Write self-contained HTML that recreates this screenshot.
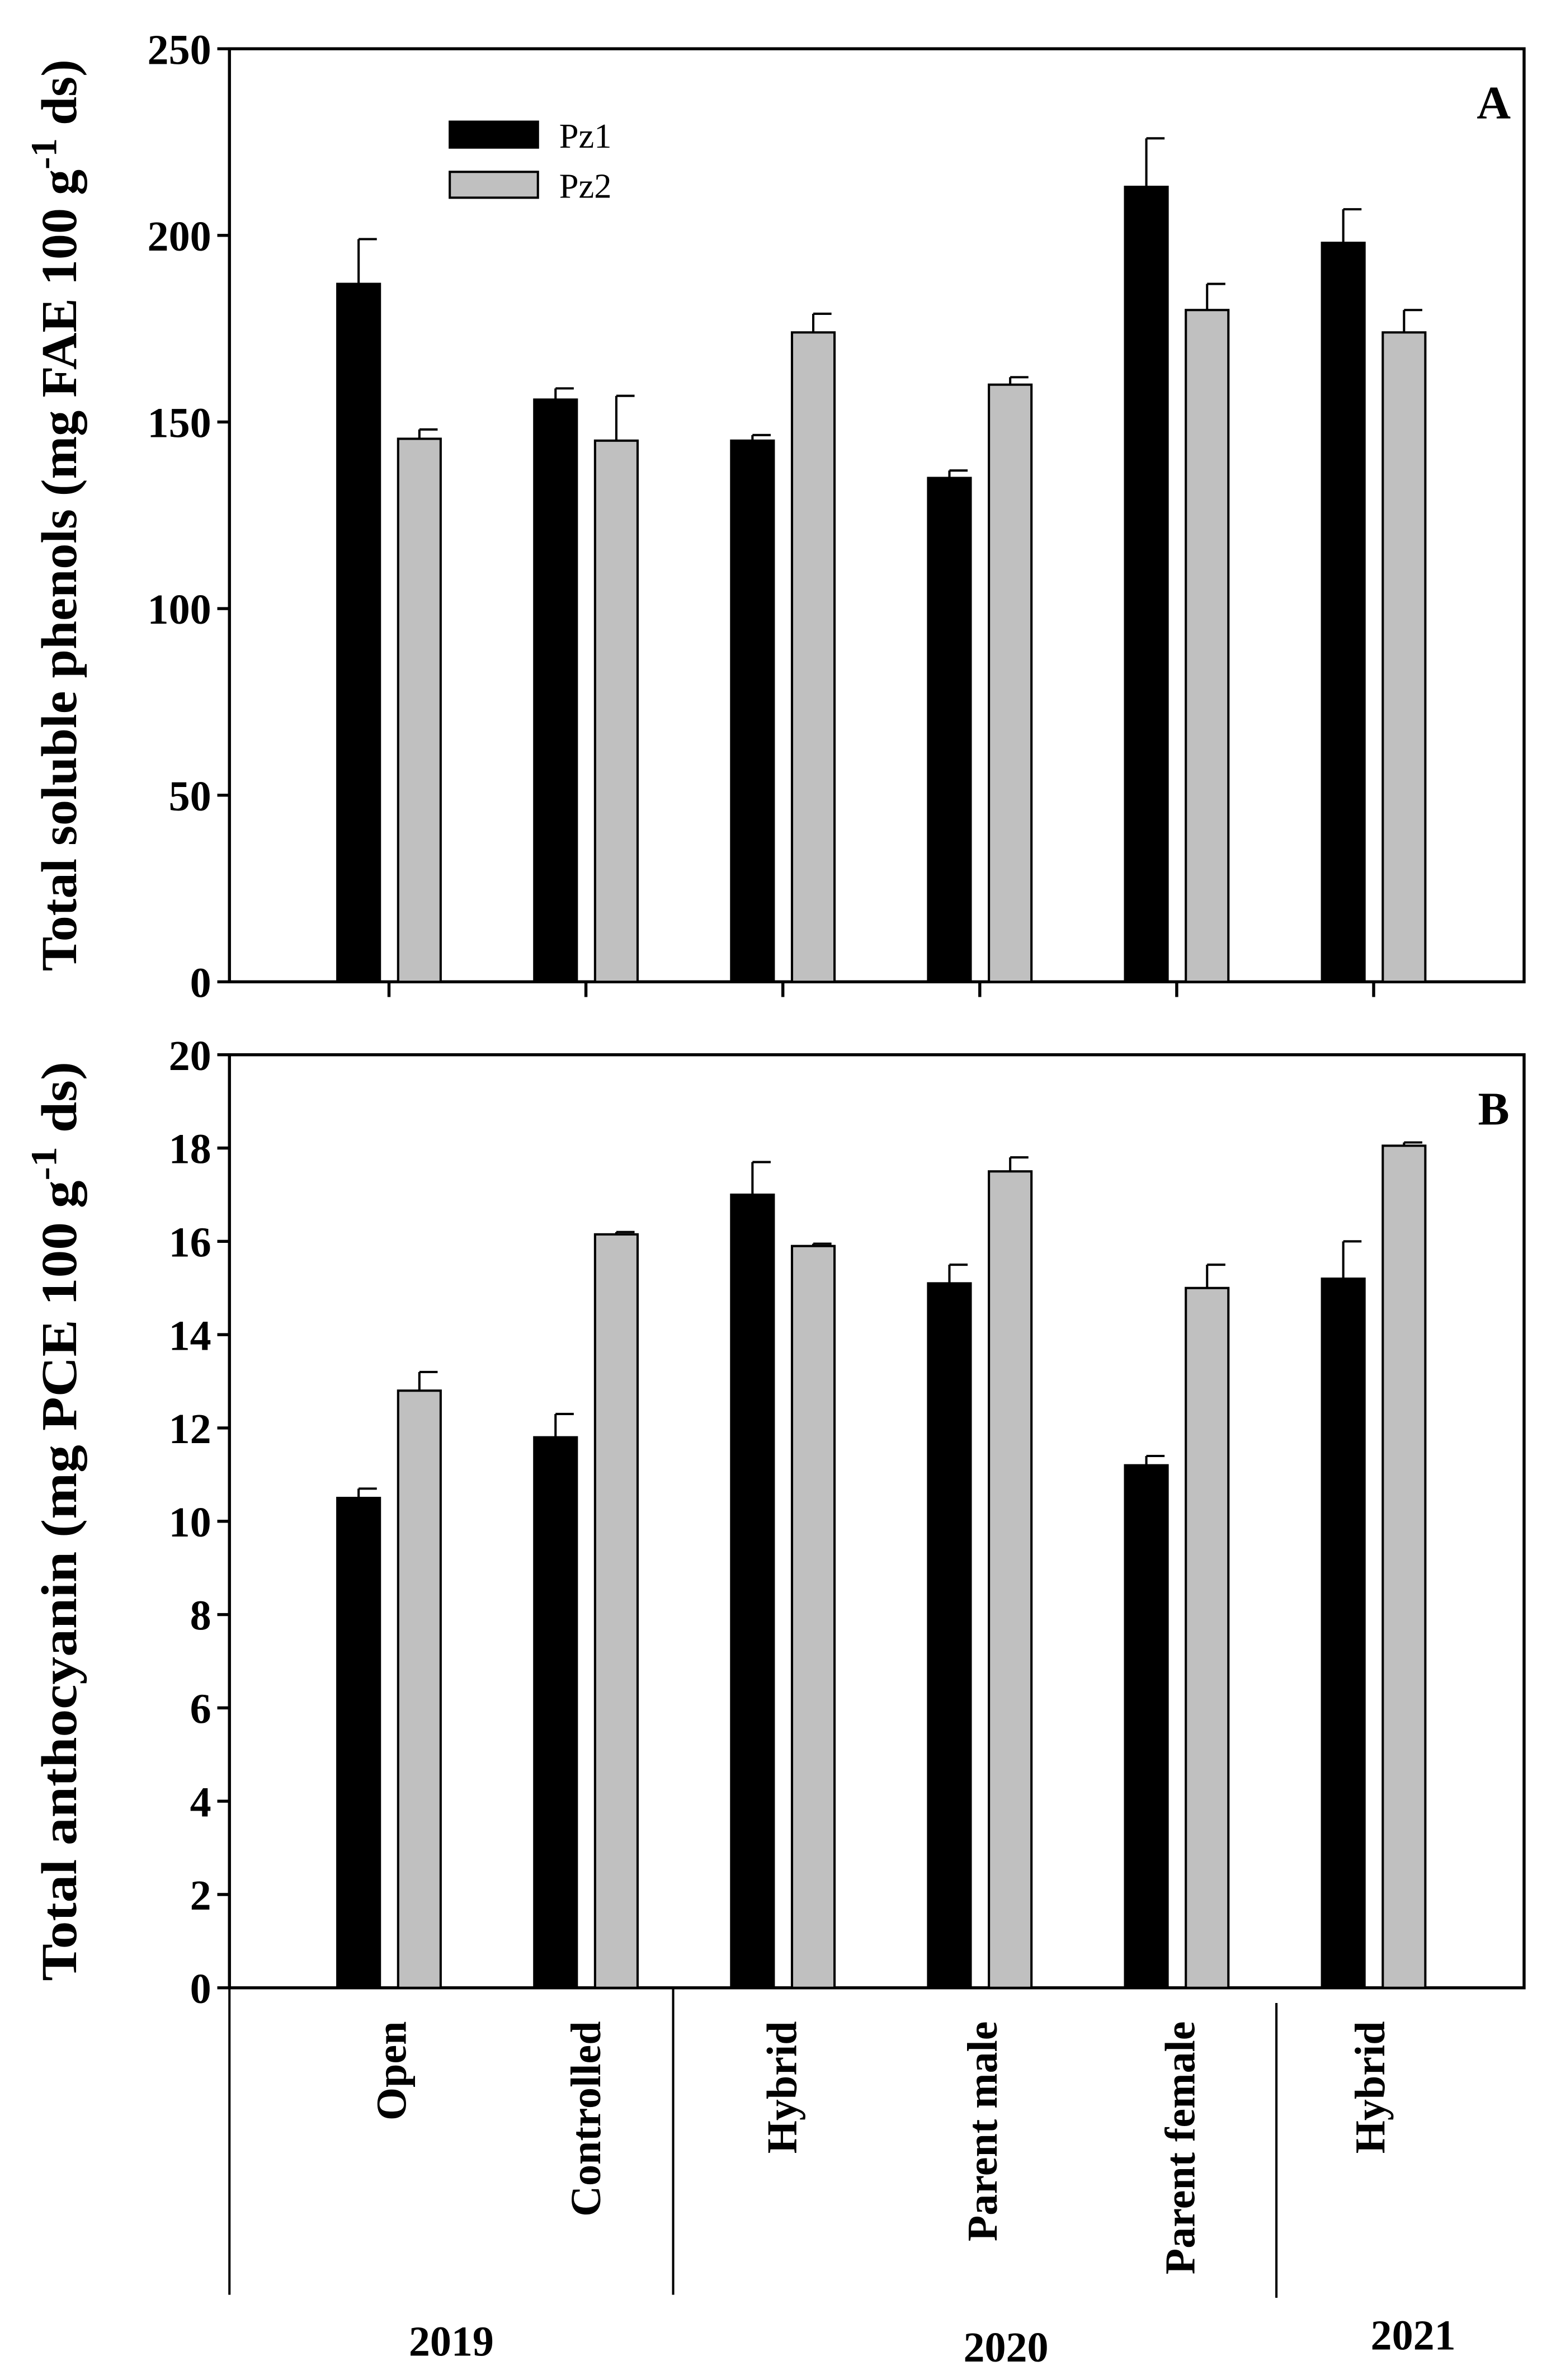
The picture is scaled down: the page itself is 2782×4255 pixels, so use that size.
<!DOCTYPE html>
<html><head><meta charset="utf-8"><style>
html,body{margin:0;padding:0;background:#fff}
svg{display:block}
text{font-family:"Liberation Serif",serif;fill:#000}
</style></head><body>
<svg id="fig" width="2782" height="4255" viewBox="0 0 1024 1566" xmlns="http://www.w3.org/2000/svg">
<g id="pa"></g>
<g id="pb"></g>
<g id="cats"></g>
</svg>
<script>
const categories=["Open","Controlled","Hybrid","Parent  male","Parent female","Hybrid"];
const years=["2019","2020","2021"];
const phenolPz1=[187,156,145,135,213,198];
const phenolPz1Err=[12,3,1.5,2,13,9];
const phenolPz2=[145.5,145,174,160,180,174];
const phenolPz2Err=[2.5,12,5,2,7,6];
const phenolTicks=[0,50,100,150,200,250];
const anthoPz1=[10.5,11.8,17.0,15.1,11.2,15.2];
const anthoPz1Err=[0.2,0.5,0.7,0.4,0.2,0.8];
const anthoPz2=[12.8,16.15,15.9,17.5,15.0,18.05];
const anthoPz2Err=[0.4,0.05,0.05,0.3,0.5,0.07];
const anthoTicks=[0,2,4,6,8,10,12,14,16,18,20];

const NS="http://www.w3.org/2000/svg";
function mk(parent,tag,attrs,txt){const e=document.createElementNS(NS,tag);for(const k in attrs)e.setAttribute(k,attrs[k]);if(txt!==undefined)e.textContent=txt;parent.appendChild(e);return e;}
const L=151,R=1003;
const xc=i=>256+i*129.6;
function panel(g,top,bot,max,ticks,p1,e1,p2,e2,letter,title,pname,showTicks,tlen){
  const y=v=>bot-(v/max)*(bot-top);
  const f=mk(g,'rect',{x:L,y:top,width:R-L,height:bot-top,fill:'none',stroke:'#000','stroke-width':2});
  
  
  ticks.forEach(t=>{
    const tl=mk(g,'line',{x1:L-8,x2:L,y1:y(t),y2:y(t),stroke:'#000','stroke-width':2});
    
    
    const tx=mk(g,'text',{x:L-12,y:y(t)+10,'text-anchor':'end','font-size':28,'font-weight':'bold'},String(t));
    
    
  });
  categories.forEach((c,i)=>{
    const cx=xc(i);
    if(showTicks){const bt=mk(g,'line',{x1:cx,x2:cx,y1:bot,y2:bot+10,stroke:'#000','stroke-width':2});
      
      }
    [[p1,e1,-34,'#000','pz1'],[p2,e2,6,'#c0c0c0','pz2']].forEach(([v,e,off,col,s])=>{
      const x0=cx+off;
      const el=mk(g,'line',{x1:x0+14,x2:x0+14,y1:y(v[i]),y2:y(v[i]+e[i]),stroke:'#000','stroke-width':1.5});
      
      
      const ec=mk(g,'line',{x1:x0+14,x2:x0+26,y1:y(v[i]+e[i]),y2:y(v[i]+e[i]),stroke:'#000','stroke-width':1.5});
      
      
      const b=mk(g,'rect',{x:x0,y:y(v[i]),width:28,height:bot-y(v[i]),fill:col,stroke:'#000','stroke-width':1.5});
      
      
    });
  });
  const lt=mk(g,'text',{x:983,y:top+46,'text-anchor':'middle','font-size':31,'font-weight':'bold'},letter);
  
  
  const ty=(top+bot)/2;
  const at=mk(g,'text',{transform:`translate(50,${ty}) rotate(-90)`,'text-anchor':'middle','font-size':33,'font-weight':'bold',textLength:tlen,lengthAdjust:'spacingAndGlyphs'});
  
  
  mk(at,'tspan',{},title);
  mk(at,'tspan',{dy:-13,'font-size':24},'-1');
  mk(at,'tspan',{dy:13},' ds)');
}
const pa=document.getElementById('pa'),pb=document.getElementById('pb');
panel(pa,32,646,250,phenolTicks,phenolPz1,phenolPz1Err,phenolPz2,phenolPz2Err,'A','Total soluble phenols (mg FAE 100 g','panel-a',true,600);
panel(pb,694,1308,20,anthoTicks,anthoPz1,anthoPz1Err,anthoPz2,anthoPz2Err,'B','Total anthocyanin (mg PCE 100 g','panel-b',false,605);
// legend
const lg=mk(pa,'g',{});


[['#000','Pz1',80],['#c0c0c0','Pz2',113]].forEach(([c,t,yy])=>{
  const r=mk(lg,'rect',{x:296,y:yy,width:58,height:17,fill:c,stroke:'#000','stroke-width':1.5});
  
  
  const tt=mk(lg,'text',{x:368,y:yy+17,'font-size':23},t);
  
  
});
// category axis
const cg=document.getElementById('cats');
[[151,1308,1510],[443,1308,1510],[840,1318,1512]].forEach(([x,a,b])=>{
  const l=mk(cg,'line',{x1:x,x2:x,y1:a,y2:b,stroke:'#000','stroke-width':1.5});
  
  
});
const labX=[256,384,513,645,775,900];
categories.forEach((c,i)=>{
  const t=mk(cg,'text',{transform:`translate(${labX[i]+11},1330) rotate(-90)`,'text-anchor':'end','font-size':28,'font-weight':'bold','xml:space':'preserve'},c);
  
  
});
const yrX=[297,662,930],yrY=[1550,1554,1546];
years.forEach((yv,i)=>{
  const t=mk(cg,'text',{x:yrX[i],y:yrY[i],'text-anchor':'middle','font-size':28,'font-weight':'bold'},yv);
  
  
});
</script>
</body></html>
